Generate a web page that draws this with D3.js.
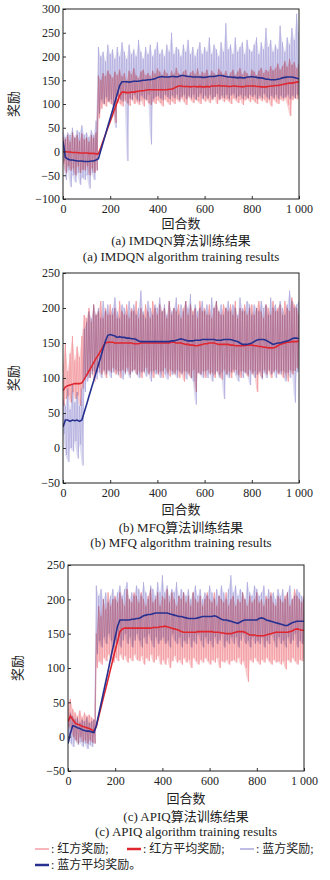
<!DOCTYPE html>
<html>
<head>
<meta charset="utf-8">
<script src="https://cdn.jsdelivr.net/npm/d3@7"></script>
<style>
body { margin: 0; background: #fff; }
text { font-family: "Liberation Serif", "Noto Sans CJK SC", serif; fill: #222; }
</style>
</head>
<body>
<svg id="chart" width="330" height="880"></svg>
<script>
// episodes sampled every 10
var episodes = d3.range(0, 1001, 10);
var xTicks = [0, 200, 400, 600, 800, 1000];

// ---- (a) IMDQN ----
var aRedHi = [30,25,35,20,40,28,35,22,38,25,
  30,20,35,28,40,160,150,165,158,170,
  162,155,168,160,172,158,165,150,170,162,
  175,160,155,168,172,160,165,158,170,163,
  175,168,160,172,165,158,170,162,176,165,
  160,168,172,158,166,170,162,175,160,168,
  164,172,158,170,165,160,174,168,162,170,
  158,166,172,160,168,175,162,170,165,158,
  172,168,160,170,176,165,172,168,180,170,
  175,185,172,180,190,178,195,182,188,175,
  185];
var aRedLo = [-25,-45,-30,-40,-35,-50,-30,-45,-38,-40,
  -30,-50,-35,-45,-40,70,90,100,95,105,
  100,98,60,105,100,95,108,102,96,110,
  100,105,98,108,95,110,102,98,105,100,
  108,102,95,110,104,98,106,100,110,104,
  112,105,98,115,108,102,110,106,100,112,
  105,110,102,108,115,100,108,112,104,110,
  106,100,112,108,102,110,98,108,112,104,
  110,105,100,112,106,110,102,108,95,110,
  104,100,110,106,112,98,75,108,112,110,
  115];
var aBlueHi = [45,30,40,35,50,30,45,40,55,35,
  40,30,45,35,65,220,200,210,190,225,
  205,215,195,220,200,230,210,195,225,205,
  215,200,235,210,195,220,205,225,200,215,
  230,205,215,200,225,210,250,205,220,215,
  200,225,210,235,205,220,200,215,230,205,
  220,210,240,205,225,215,200,230,210,270,
  215,225,205,240,210,220,230,205,235,215,
  210,225,240,205,230,215,260,220,235,210,
  225,215,265,230,210,240,225,260,235,290,
  250];
var aBlueLo = [-20,-60,-40,-75,-50,-65,-45,-70,-55,-60,
  -50,-78,-45,-60,-40,80,110,100,115,105,
  110,95,50,118,110,105,120,-20,112,108,
  120,110,105,118,112,108,120,15,110,115,
  118,112,108,120,115,110,118,112,120,108,
  115,120,110,118,112,120,108,115,122,110,
  118,112,120,110,115,122,110,118,112,120,
  110,118,122,112,116,120,110,118,112,120,
  115,120,110,118,112,122,115,110,118,112,
  120,110,118,112,115,120,110,118,112,120,
  115];
var aRedMean = [0,0,-1,-1,-2,-2,-2,-3,-3,-3,
  -3,-4,-4,-4,-5,-5,8,22,36,50,
  63,77,91,104,118,125,125,124,124,125,
  125,126,127,128,128,129,130,130,130,130,
  130,130,130,130,130,131,131,133,136,138,
  138,137,137,137,136,137,137,136,137,136,
  136,137,136,138,138,138,139,138,138,138,
  137,137,138,138,137,137,136,137,138,138,
  138,138,137,137,136,136,136,137,138,138,
  139,139,140,141,142,143,144,144,145,146,
  147];
var aBlueMean = [22,-12,-16,-18,-18,-19,-20,-20,-20,-21,
  -21,-21,-20,-20,-18,-15,2,19,36,53,
  70,87,104,121,139,147,147,147,146,147,
  148,148,148,149,150,150,151,151,152,153,
  156,157,158,157,157,157,158,158,157,158,
  160,160,159,158,158,157,157,157,157,156,
  156,157,158,158,158,159,160,160,159,158,
  157,157,156,156,155,156,155,155,157,157,
  158,157,156,155,155,154,152,152,151,151,
  151,152,153,155,156,157,157,157,156,154,
  153];

// ---- (b) MFQ ----
var bRedHi = [120,150,110,135,160,125,145,130,160,190,
  185,200,180,205,190,195,210,185,200,190,
  205,190,200,185,210,195,190,205,185,200,
  195,210,185,200,190,205,195,185,210,200,
  190,205,195,200,185,210,190,200,195,205,
  185,200,210,190,205,195,200,185,210,195,
  200,190,205,185,200,210,195,190,205,200,
  195,205,190,210,185,200,195,205,190,200,
  205,190,200,210,195,185,205,200,190,210,
  195,200,205,190,210,200,195,215,205,200,
  190];
var bRedLo = [60,70,75,65,80,70,75,60,85,100,
  105,100,110,95,108,115,105,110,100,112,
  108,115,105,110,100,112,108,115,105,110,
  112,105,110,100,108,115,105,110,100,112,
  105,110,100,115,108,102,110,105,112,100,
  108,95,110,105,100,112,80,108,105,110,
  100,112,105,108,100,110,105,98,112,105,
  110,100,108,112,105,100,110,108,102,112,
  105,110,80,108,100,112,105,110,100,108,
  112,105,110,100,108,95,112,105,110,115,
  110];
var bBlueHi = [70,60,85,55,90,65,80,60,85,170,
  180,195,185,205,190,200,185,210,195,205,
  190,200,215,195,185,205,200,190,210,195,
  205,190,200,225,195,185,210,200,190,205,
  200,215,195,205,190,210,195,200,215,190,
  205,195,210,200,220,190,205,195,200,210,
  195,205,190,215,200,210,195,205,190,200,
  210,195,205,200,190,215,200,195,210,205,
  190,205,200,195,210,200,205,190,215,200,
  205,195,210,200,190,205,225,210,200,205,
  210];
var bBlueLo = [20,-10,-20,0,-5,10,-15,5,-25,80,
  95,100,105,110,98,108,100,112,105,110,
  100,108,112,104,110,98,105,110,100,108,
  112,105,100,108,110,102,108,95,110,105,
  108,100,110,105,98,112,104,108,100,110,
  105,110,98,108,100,95,62,108,105,100,
  110,100,108,95,105,110,100,108,70,105,
  100,108,112,104,95,110,100,108,105,90,
  108,100,105,110,98,108,100,112,105,110,
  100,108,105,110,95,108,100,110,65,108,
  110];
var bRedMean = [82,87,89,90,91,92,92,92,93,98,
  104,110,116,122,128,133,139,145,150,151,
  151,151,150,150,150,150,150,150,150,150,
  149,149,149,150,150,150,150,150,150,150,
  150,150,150,150,150,150,151,151,150,150,
  150,149,148,148,147,147,146,146,147,148,
  149,149,150,150,150,149,148,148,148,148,
  148,147,147,146,146,146,146,146,147,147,
  147,146,146,145,145,144,144,143,143,143,
  144,146,148,149,150,151,151,152,152,152,
  153];
var bBlueMean = [30,40,40,38,40,39,40,38,40,51,
  62,74,85,96,108,119,130,142,153,161,
  162,161,160,158,159,158,158,157,157,156,
  156,155,153,152,152,152,152,152,152,152,
  152,152,152,152,152,152,153,153,154,155,
  156,155,154,153,153,153,154,154,154,155,
  155,155,155,155,155,154,154,154,155,155,
  155,155,154,153,152,150,148,148,148,149,
  150,152,154,155,155,155,154,152,150,148,
  149,150,150,151,152,153,154,156,157,157,
  156];

// ---- (c) APIQ ----
var cRedHi = [50,55,40,35,30,38,28,35,30,32,
  28,25,150,190,175,200,185,210,190,200,
  205,195,210,200,190,215,200,195,210,205,
  195,210,200,190,205,215,195,200,210,190,
  205,200,215,195,210,200,190,205,200,210,
  195,205,190,210,200,195,205,190,200,210,
  200,195,210,190,205,200,195,210,190,200,
  205,190,200,195,210,200,190,205,195,200,
  210,195,200,190,205,200,210,195,190,205,
  200,195,205,210,190,200,215,205,200,195,
  205];
var cRedLo = [15,10,0,-5,-10,0,-8,-5,-10,-5,
  -8,-10,100,110,105,115,110,120,112,108,
  115,110,120,112,118,108,115,110,120,112,
  110,118,105,115,110,120,108,112,118,105,
  112,105,115,100,110,118,108,112,105,115,
  108,112,100,115,110,105,112,108,115,110,
  105,112,108,115,100,110,108,112,105,110,
  112,108,115,105,110,100,80,112,108,115,
  110,105,112,108,115,110,105,112,108,110,
  105,110,98,112,108,115,110,105,112,110,
  115];
var cBlueHi = [20,35,30,25,28,20,25,22,28,20,
  22,25,220,205,215,200,210,195,205,215,
  200,210,220,205,215,225,200,210,205,220,
  215,205,225,210,200,220,215,205,225,210,
  235,210,220,205,215,210,225,205,215,210,
  205,215,200,210,220,205,215,200,210,205,
  220,210,200,215,205,220,210,200,215,235,
  210,220,205,215,210,200,225,210,205,220,
  215,205,210,220,200,215,205,210,200,215,
  205,215,200,210,220,200,205,215,210,205,
  200];
var cBlueLo = [-5,-10,-15,-5,-12,-8,-15,-10,-18,-12,
  -15,-10,120,140,130,145,135,150,140,130,
  135,145,130,140,150,135,145,130,140,150,
  140,130,145,135,150,140,130,145,135,140,
  145,135,140,130,150,140,135,145,130,140,
  135,145,130,140,135,150,140,130,145,135,
  140,130,145,135,140,150,130,140,135,145,
  135,145,130,140,150,135,140,130,145,135,
  140,135,145,130,140,135,150,140,130,145,
  135,140,130,145,135,140,150,130,140,135,
  140];
var cRedMean = [22,30,25,20,18,17,15,14,13,12,
  10,8,15,29,43,57,70,84,98,112,
  126,139,153,157,158,158,158,158,158,158,
  158,158,158,158,158,158,159,159,159,160,
  160,161,160,159,158,157,156,155,153,152,
  152,152,152,152,152,153,153,153,153,153,
  153,153,152,152,152,151,151,150,150,150,
  151,152,153,153,153,152,150,148,148,148,
  147,147,147,147,148,149,150,151,152,152,
  152,152,152,152,153,154,156,157,156,155,
  155];
var cBlueMean = [-10,5,16,15,13,12,10,9,8,8,
  7,6,16,32,48,64,80,96,113,129,
  145,161,170,170,170,170,170,171,171,172,
  172,174,176,177,178,178,179,180,180,180,
  180,180,180,179,178,177,176,175,175,174,
  173,172,172,172,172,173,174,175,175,175,
  175,175,176,175,173,171,170,170,169,168,
  167,166,165,167,169,170,170,170,170,170,
  170,172,173,172,170,169,168,167,166,165,
  164,163,162,162,164,166,167,168,168,168,
  168];

var RED_RAW = "#f39ea3", BLUE_RAW = "#aaa6dc";
var RED_MEAN = "#e0262f", BLUE_MEAN = "#27308f";

var panels = [
  { id: "a", left: 63, right: 299, top: 9, bottom: 199, yDomain: [-100, 300], cx: 181,
    xLabelY: 223, cap1Y: 240, cap2Y: 256, yLabelX: 13,
    cap1: "(a) IMDQN算法训练结果", cap2: "(a) IMDQN algorithm training results",
    redHi: aRedHi, redLo: aRedLo, blueHi: aBlueHi, blueLo: aBlueLo, redMean: aRedMean, blueMean: aBlueMean },
  { id: "b", left: 63, right: 299, top: 273, bottom: 483, yDomain: [-50, 250], cx: 181,
    xLabelY: 509, cap1Y: 527, cap2Y: 542, yLabelX: 13,
    cap1: "(b) MFQ算法训练结果", cap2: "(b) MFQ algorithm training results",
    redHi: bRedHi, redLo: bRedLo, blueHi: bBlueHi, blueLo: bBlueLo, redMean: bRedMean, blueMean: bBlueMean },
  { id: "c", left: 68, right: 304, top: 565, bottom: 771, yDomain: [-50, 250], cx: 186,
    xLabelY: 798, cap1Y: 816, cap2Y: 831, yLabelX: 17,
    cap1: "(c) APIQ算法训练结果", cap2: "(c) APIQ algorithm training results",
    redHi: cRedHi, redLo: cRedLo, blueHi: cBlueHi, blueLo: cBlueLo, redMean: cRedMean, blueMean: cBlueMean }
];

var svg = d3.select("#chart");

panels.forEach(function(p) {
  var x = d3.scaleLinear().domain([0, 1000]).range([p.left, p.right]);
  var y = d3.scaleLinear().domain(p.yDomain).range([p.bottom, p.top]);
  var g = svg.append("g");

  g.append("clipPath").attr("id", "clip-" + p.id)
    .append("rect")
    .attr("x", p.left).attr("y", p.top)
    .attr("width", p.right - p.left).attr("height", p.bottom - p.top);

  var plot = g.append("g").attr("clip-path", "url(#clip-" + p.id + ")");

  // raw rewards: translucent band between high and low samples, plus a zigzag through them
  function rawPoints(hi, lo) {
    var pts = [];
    episodes.forEach(function(ep, i) {
      pts.push([x(ep), y(hi[i])]);
      pts.push([x(ep + 5), y(lo[i])]);
    });
    return pts;
  }
  var line = d3.line();
  var band = d3.area()
    .x(function(d, i) { return x(episodes[i]); })
    .y0(function(d) { return y(d[1]); })
    .y1(function(d) { return y(d[0]); });

  function drawRaw(hi, lo, color, op, blend) {
    var layer = plot.append("g").style("mix-blend-mode", blend);
    layer.append("path").attr("d", band(hi.map(function(h, i) { return [h, lo[i]]; })))
      .attr("fill", color).attr("opacity", op * 0.6);
    layer.append("path").attr("d", line(rawPoints(hi, lo)))
      .attr("fill", "none").attr("stroke", color).attr("stroke-width", 1).attr("opacity", op);
  }
  drawRaw(p.redHi, p.redLo, RED_RAW, 0.85, "normal");
  drawRaw(p.blueHi, p.blueLo, BLUE_RAW, 0.65, "multiply");

  var meanLine = d3.line().x(function(d, i) { return x(episodes[i]); }).y(function(d) { return y(d); });
  plot.append("path").attr("d", meanLine(p.redMean))
    .attr("fill", "none").attr("stroke", RED_MEAN).attr("stroke-width", 1.6);
  plot.append("path").attr("d", meanLine(p.blueMean))
    .attr("fill", "none").attr("stroke", BLUE_MEAN).attr("stroke-width", 1.6);

  // axes
  var yTicks = d3.range(p.yDomain[0], p.yDomain[1] + 1, 50);
  var yAxis = g.append("g").attr("transform", "translate(" + p.left + ",0)")
    .call(d3.axisLeft(y).tickValues(yTicks).tickSizeInner(-3).tickSizeOuter(0).tickPadding(3));
  var xAxis = g.append("g").attr("transform", "translate(0," + p.bottom + ")")
    .call(d3.axisBottom(x).tickValues(xTicks).tickSizeInner(-3).tickSizeOuter(0).tickPadding(5)
      .tickFormat(function(d) { return d === 1000 ? "1 000" : d; }));
  [yAxis, xAxis].forEach(function(a) {
    a.select(".domain").remove();
    a.selectAll("line").attr("stroke", "#333");
    a.selectAll("text").attr("font-size", 12).attr("font-family", "Liberation Serif").attr("fill", "#222");
  });

  g.append("rect")
    .attr("x", p.left).attr("y", p.top)
    .attr("width", p.right - p.left).attr("height", p.bottom - p.top)
    .attr("fill", "none").attr("stroke", "#222").attr("stroke-width", 1);

  // labels
  g.append("text")
    .attr("transform", "translate(" + p.yLabelX + "," + ((p.top + p.bottom) / 2) + ") rotate(-90)")
    .attr("text-anchor", "middle").attr("dominant-baseline", "central")
    .attr("font-size", 13).text("奖励");
  g.append("text").attr("x", (p.left + p.right) / 2).attr("y", p.xLabelY)
    .attr("text-anchor", "middle").attr("dominant-baseline", "central")
    .attr("font-size", 13).text("回合数");
  g.append("text").attr("x", p.cx).attr("y", p.cap1Y)
    .attr("text-anchor", "middle").attr("dominant-baseline", "central")
    .attr("font-size", 13).text(p.cap1);
  g.append("text").attr("x", p.cx).attr("y", p.cap2Y)
    .attr("text-anchor", "middle").attr("dominant-baseline", "central")
    .attr("font-size", 13).text(p.cap2);
});

// legend
var legendItems = [
  { x: 35, y: 849, color: RED_RAW, width: 1.5, label: ": 红方奖励;" },
  { x: 127, y: 849, color: RED_MEAN, width: 2.5, label: ": 红方平均奖励;" },
  { x: 240, y: 849, color: BLUE_RAW, width: 1.5, label: ": 蓝方奖励;" },
  { x: 35, y: 865, color: BLUE_MEAN, width: 2.5, label: ": 蓝方平均奖励。" }
];
var lg = svg.append("g");
legendItems.forEach(function(d) {
  lg.append("line").attr("x1", d.x).attr("x2", d.x + 14).attr("y1", d.y).attr("y2", d.y)
    .attr("stroke", d.color).attr("stroke-width", d.width);
  lg.append("text").attr("x", d.x + 16).attr("y", d.y).attr("dominant-baseline", "central")
    .attr("font-size", 12).text(d.label);
});
</script>
</body>
</html>
